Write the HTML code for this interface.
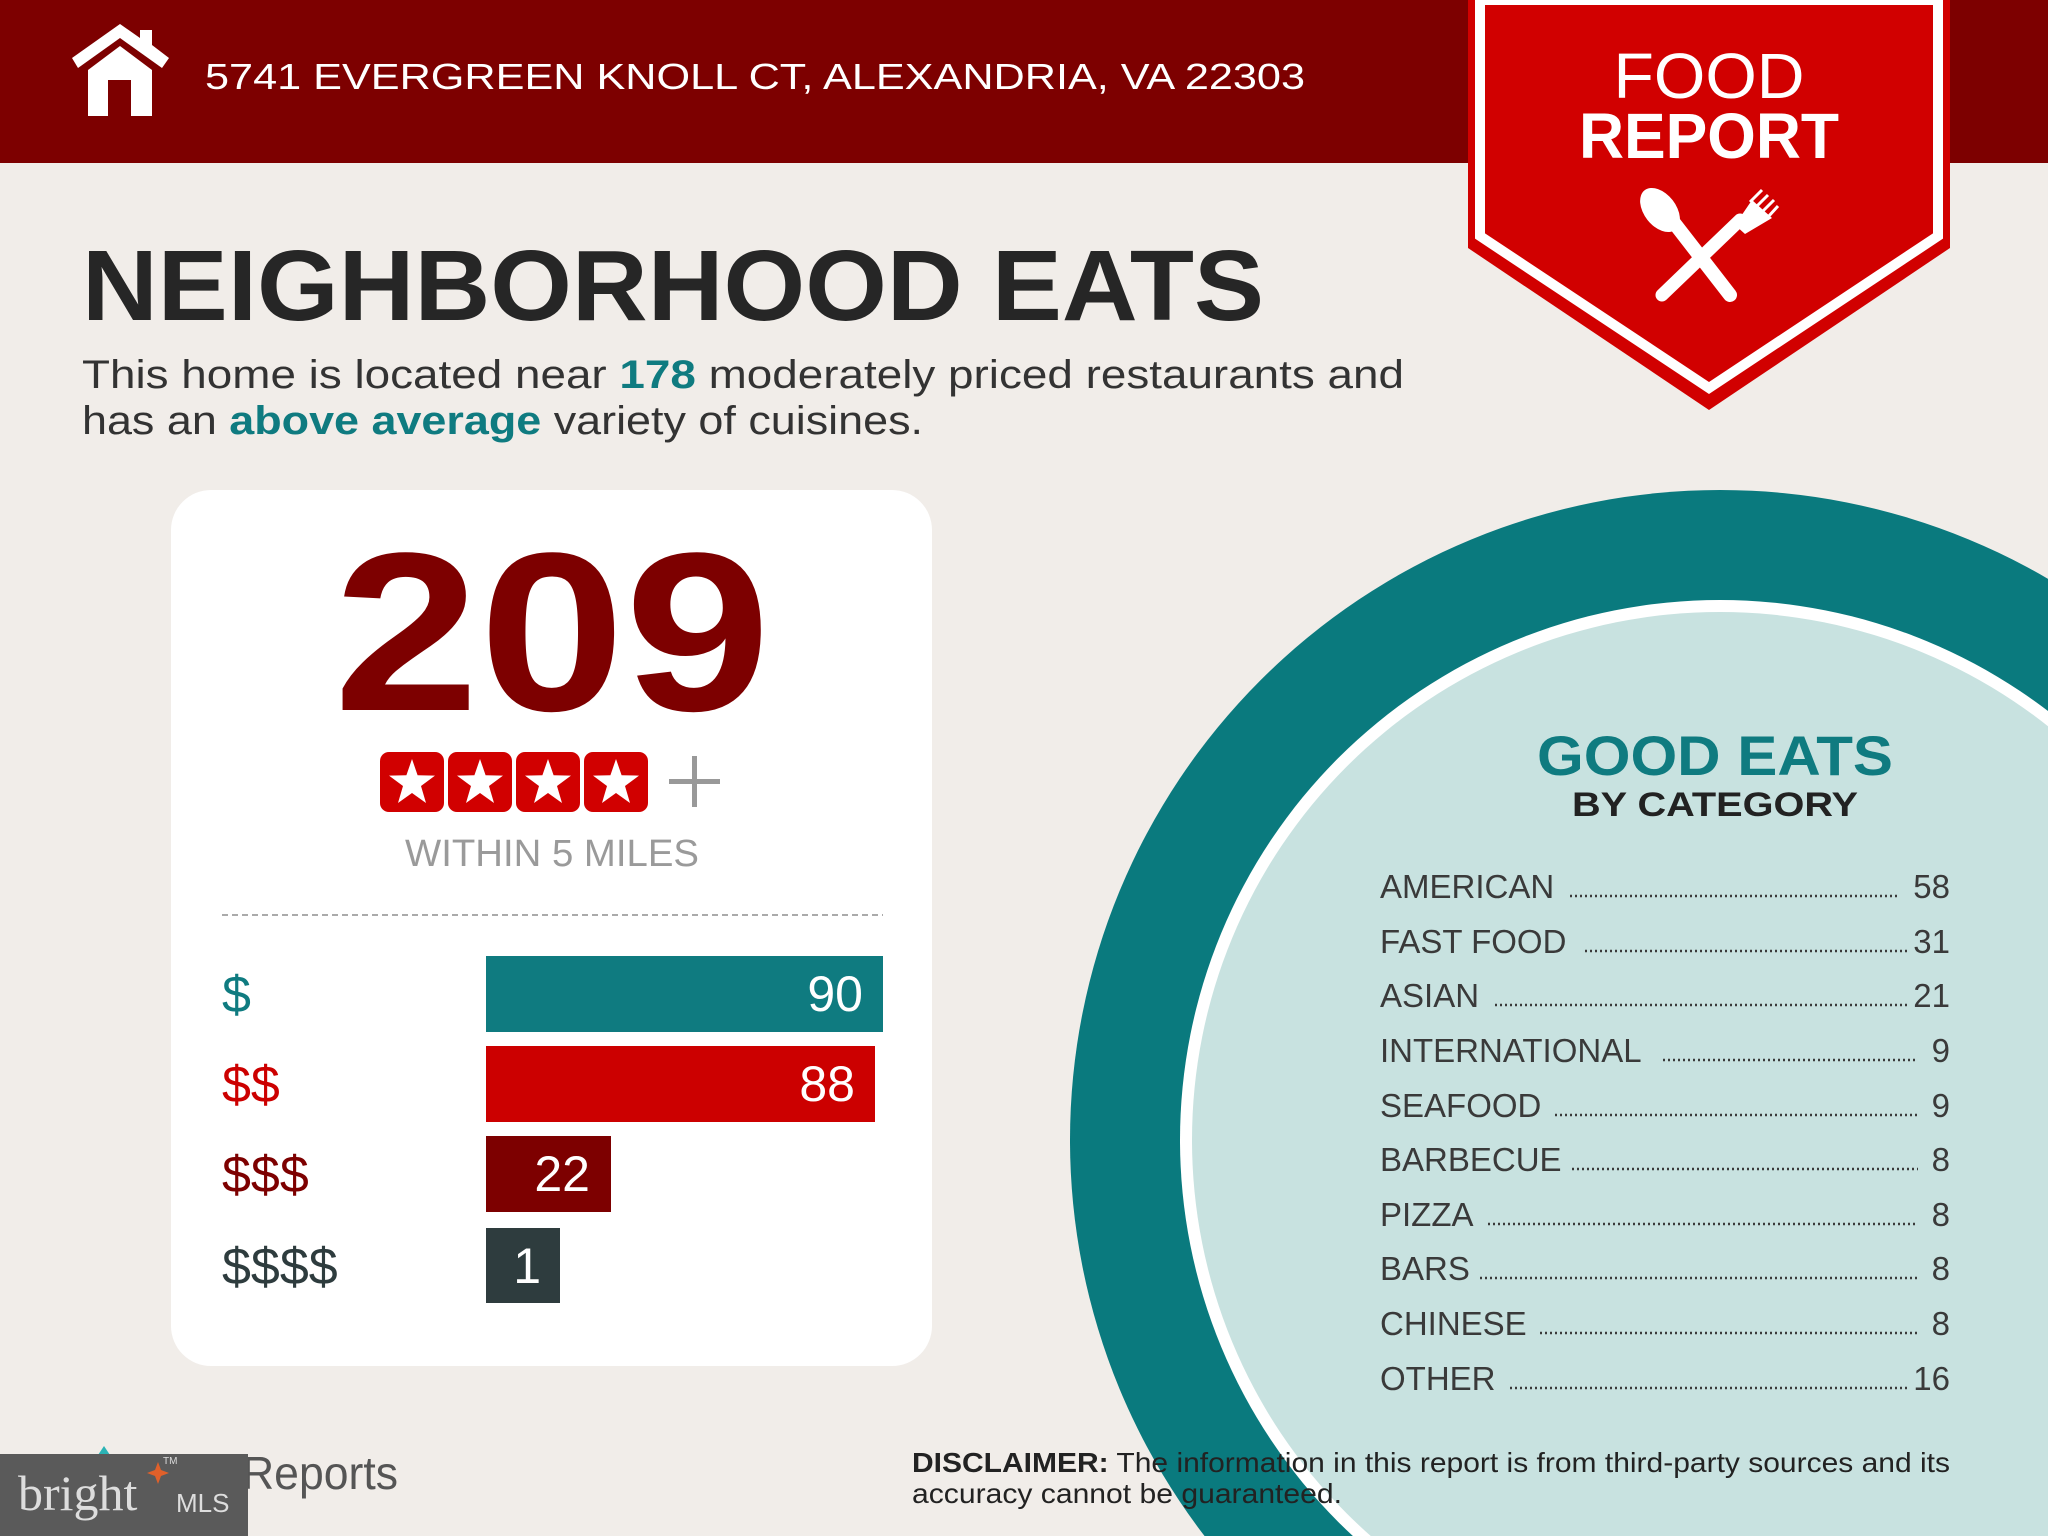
<!DOCTYPE html>
<html><head><meta charset="utf-8"><style>
html,body{margin:0;padding:0;background:#f1ede9;width:2048px;height:1536px;overflow:hidden;}
svg{display:block;}
text{font-family:"Liberation Sans",sans-serif;}
</style></head><body>
<svg width="2048" height="1536" viewBox="0 0 2048 1536" xmlns="http://www.w3.org/2000/svg">
<rect width="2048" height="1536" fill="#f1ede9"/>
<!-- header -->
<rect x="0" y="0" width="2048" height="163" fill="#7d0000"/>
<!-- house -->
<polygon points="120,24 72,58 78,68 120,38 162,68 169,58 152,45 152,30 140,30 140,38" fill="#fff"/>
<polygon points="120,46 88,70 88,116 108,116 108,80 131,80 131,116 152,116 152,70" fill="#fff"/>
<text x="205" y="89" font-size="36" fill="#fff" textLength="1100" lengthAdjust="spacingAndGlyphs">5741 EVERGREEN KNOLL CT, ALEXANDRIA, VA 22303</text>
<!-- circle -->
<circle cx="1720" cy="1140" r="650" fill="#0a7a7e"/>
<circle cx="1720" cy="1140" r="540" fill="#fff"/>
<circle cx="1720" cy="1140" r="528" fill="#c8e2e0"/>
<!-- badge -->
<polygon points="1468,0 1950,0 1950,248 1709,410 1468,248" fill="#d10000"/>
<polygon points="1480,0 1938,0 1938,236 1709,388 1480,236" fill="none" stroke="#fff" stroke-width="10"/>
<text x="1709" y="98" font-size="64" fill="#fff" text-anchor="middle" textLength="191" lengthAdjust="spacingAndGlyphs">FOOD</text>
<text x="1709" y="158" font-size="64" font-weight="bold" fill="#fff" text-anchor="middle" textLength="260" lengthAdjust="spacingAndGlyphs">REPORT</text>
<!-- utensils -->
<g fill="#fff">
<line x1="1668" y1="215" x2="1730" y2="295" stroke="#fff" stroke-width="14" stroke-linecap="round"/>
<ellipse cx="1660" cy="210" rx="16" ry="25" transform="rotate(-38 1660 210)"/>
<line x1="1662" y1="295" x2="1740" y2="220" stroke="#fff" stroke-width="13" stroke-linecap="round"/>
<path d="M1735,225 L1752,200 L1772,218 L1745,234 Z"/>
<line x1="1750" y1="202" x2="1762" y2="190" stroke="#fff" stroke-width="3"/>
<line x1="1756" y1="207" x2="1768" y2="195" stroke="#fff" stroke-width="3"/>
<line x1="1762" y1="212" x2="1774" y2="200" stroke="#fff" stroke-width="3"/>
<line x1="1768" y1="217" x2="1778" y2="206" stroke="#fff" stroke-width="3"/>
</g>
<!-- title -->
<text x="82" y="320" font-size="100" font-weight="bold" fill="#262626" textLength="1182" lengthAdjust="spacingAndGlyphs">NEIGHBORHOOD EATS</text>
<text x="82" y="388" font-size="40" fill="#333" textLength="1322" lengthAdjust="spacingAndGlyphs">This home is located near <tspan font-weight="bold" fill="#0f7b80">178</tspan> moderately priced restaurants and</text>
<text x="82" y="434" font-size="40" fill="#333" textLength="841" lengthAdjust="spacingAndGlyphs">has an <tspan font-weight="bold" fill="#0f7b80">above average</tspan> variety of cuisines.</text>
<!-- card -->
<rect x="171" y="490" width="761" height="876" rx="40" fill="#fff"/>
<text x="552" y="710" font-size="226" font-weight="bold" fill="#7d0000" text-anchor="middle" textLength="437" lengthAdjust="spacingAndGlyphs">209</text>
<g>
<rect x="380" y="752" width="64" height="60" rx="9" fill="#d10000"/>
<rect x="448" y="752" width="64" height="60" rx="9" fill="#d10000"/>
<rect x="516" y="752" width="64" height="60" rx="9" fill="#d10000"/>
<rect x="584" y="752" width="64" height="60" rx="9" fill="#d10000"/>
<g fill="#fff">
<polygon transform="translate(412,783)" points="0,-24 5.6,-7.7 23,-7.4 9,3 14,20 0,10 -14,20 -9,3 -23,-7.4 -5.6,-7.7"/>
<polygon transform="translate(480,783)" points="0,-24 5.6,-7.7 23,-7.4 9,3 14,20 0,10 -14,20 -9,3 -23,-7.4 -5.6,-7.7"/>
<polygon transform="translate(548,783)" points="0,-24 5.6,-7.7 23,-7.4 9,3 14,20 0,10 -14,20 -9,3 -23,-7.4 -5.6,-7.7"/>
<polygon transform="translate(616,783)" points="0,-24 5.6,-7.7 23,-7.4 9,3 14,20 0,10 -14,20 -9,3 -23,-7.4 -5.6,-7.7"/>
</g>
<rect x="669" y="779" width="51" height="5" fill="#999"/>
<rect x="692" y="756" width="5" height="51" fill="#999"/>
</g>
<text x="552" y="866" font-size="38" fill="#9a9a9a" text-anchor="middle" textLength="294" lengthAdjust="spacingAndGlyphs">WITHIN 5 MILES</text>
<line x1="222" y1="915" x2="883" y2="915" stroke="#aaa" stroke-width="2" stroke-dasharray="6,4"/>
<!-- bars -->
<rect x="486" y="956" width="397" height="76" fill="#0f7b80"/>
<rect x="486" y="1046" width="389" height="76" fill="#cc0000"/>
<rect x="486" y="1136" width="125" height="76" fill="#7d0000"/>
<rect x="486" y="1228" width="74" height="75" fill="#2e3c3e"/>
<g font-size="50" fill="#fff" text-anchor="end">
<text x="863" y="1011">90</text>
<text x="855" y="1101">88</text>
<text x="590" y="1191">22</text>
<text x="541" y="1283">1</text>
</g>
<g font-size="52">
<text x="222" y="1012" fill="#0f7b80">$</text>
<text x="222" y="1102" fill="#cc0000">$$</text>
<text x="222" y="1192" fill="#7d0000">$$$</text>
<text x="222" y="1284" fill="#2e3c3e">$$$$</text>
</g>
<text x="1715" y="775" font-size="56" font-weight="bold" fill="#0f7b80" text-anchor="middle" textLength="356" lengthAdjust="spacingAndGlyphs">GOOD EATS</text>
<text x="1715" y="816" font-size="34" font-weight="bold" fill="#222" text-anchor="middle" textLength="286" lengthAdjust="spacingAndGlyphs">BY CATEGORY</text>
<g font-size="33" fill="#3a3a3a">
<text x="1380" y="898">AMERICAN</text><text x="1950" y="898" text-anchor="end">58</text>
<text x="1380" y="953">FAST FOOD</text><text x="1950" y="953" text-anchor="end">31</text>
<text x="1380" y="1007">ASIAN</text><text x="1950" y="1007" text-anchor="end">21</text>
<text x="1380" y="1062">INTERNATIONAL</text><text x="1950" y="1062" text-anchor="end">9</text>
<text x="1380" y="1117">SEAFOOD</text><text x="1950" y="1117" text-anchor="end">9</text>
<text x="1380" y="1171">BARBECUE</text><text x="1950" y="1171" text-anchor="end">8</text>
<text x="1380" y="1226">PIZZA</text><text x="1950" y="1226" text-anchor="end">8</text>
<text x="1380" y="1280">BARS</text><text x="1950" y="1280" text-anchor="end">8</text>
<text x="1380" y="1335">CHINESE</text><text x="1950" y="1335" text-anchor="end">8</text>
<text x="1380" y="1390">OTHER</text><text x="1950" y="1390" text-anchor="end">16</text>
</g>
<g stroke="#3a3a3a" stroke-width="2.5" stroke-dasharray="2,3">
<line x1="1570" y1="896" x2="1898" y2="896"/>
<line x1="1585" y1="951" x2="1910" y2="951"/>
<line x1="1495" y1="1005" x2="1910" y2="1005"/>
<line x1="1663" y1="1060" x2="1918" y2="1060"/>
<line x1="1555" y1="1115" x2="1918" y2="1115"/>
<line x1="1572" y1="1169" x2="1918" y2="1169"/>
<line x1="1488" y1="1224" x2="1918" y2="1224"/>
<line x1="1480" y1="1278" x2="1918" y2="1278"/>
<line x1="1540" y1="1333" x2="1918" y2="1333"/>
<line x1="1510" y1="1388" x2="1908" y2="1388"/>
</g>
<!-- disclaimer -->
<text x="912" y="1472" font-size="28" fill="#222" textLength="1038" lengthAdjust="spacingAndGlyphs"><tspan font-weight="bold">DISCLAIMER:</tspan> The information in this report is from third-party sources and its</text>
<text x="912" y="1503" font-size="28" fill="#222" textLength="430" lengthAdjust="spacingAndGlyphs">accuracy cannot be guaranteed.</text>
<!-- footer logo -->
<polygon points="104,1446 96,1458 112,1458" fill="#2bb3b5"/>
<text x="242" y="1489" font-size="46" fill="#555" textLength="156" lengthAdjust="spacingAndGlyphs">Reports</text>
<rect x="0" y="1454" width="248" height="82" fill="#5a5a5a"/>
<text x="18" y="1510" font-size="50" fill="#ddd" style="font-family:'Liberation Serif',serif">bright</text>
<text x="163" y="1464" font-size="10" fill="#ddd">TM</text>
<text x="176" y="1512" font-size="26" fill="#ddd">MLS</text>
<polygon points="158,1462 161,1470 169,1473 161,1476 158,1484 155,1476 147,1473 155,1470" fill="#e0602a"/>
</svg>
</body></html>
